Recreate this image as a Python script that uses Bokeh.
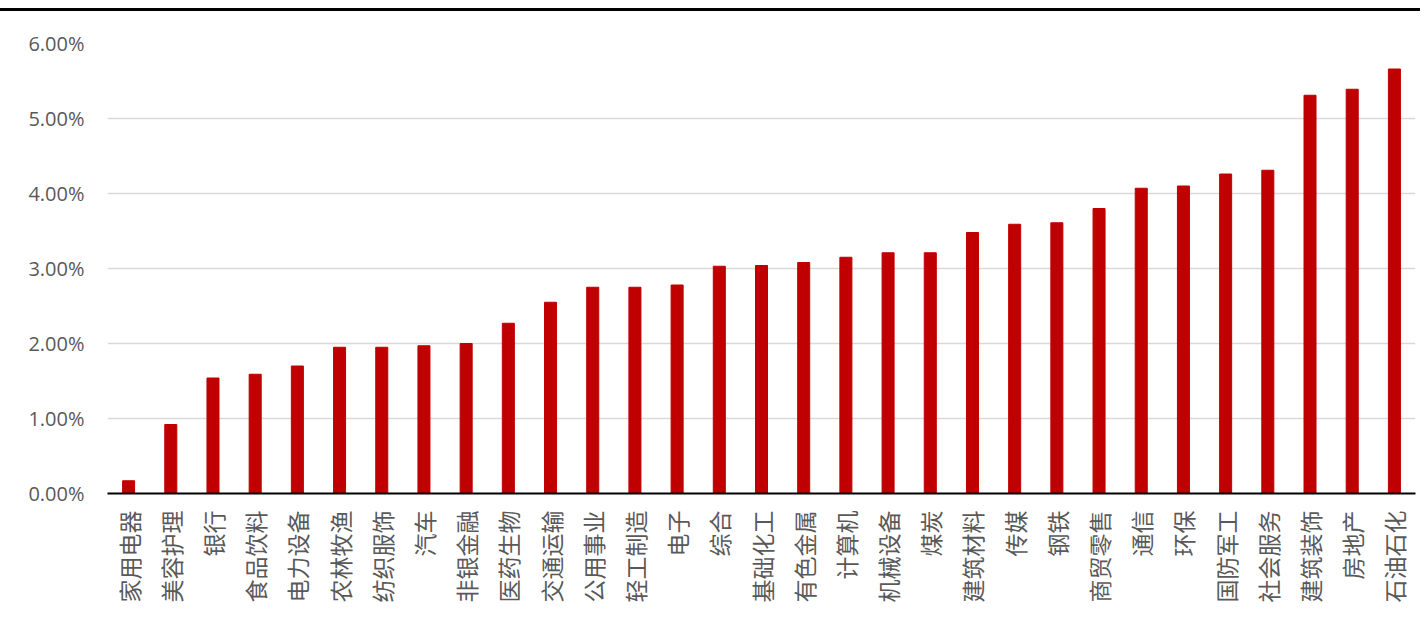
import math
from bokeh.plotting import figure
from bokeh.models import ColumnDataSource, FactorRange, Range1d, PrintfTickFormatter, FixedTicker
from bokeh.embed import file_html
from bokeh.resources import INLINE

industries = ["家用电器", "美容护理", "银行", "食品饮料", "电力设备", "农林牧渔", "纺织服饰", "汽车",
              "非银金融", "医药生物", "交通运输", "公用事业", "轻工制造", "电子", "综合", "基础化工",
              "有色金属", "计算机", "机械设备", "煤炭", "建筑材料", "传媒", "钢铁", "商贸零售",
              "通信", "环保", "国防军工", "社会服务", "建筑装饰", "房地产", "石油石化"]
values = [0.17, 0.92, 1.54, 1.59, 1.70, 1.95, 1.95, 1.97,
          2.00, 2.27, 2.55, 2.75, 2.75, 2.78, 3.03, 3.04,
          3.08, 3.15, 3.21, 3.21, 3.48, 3.59, 3.61, 3.80,
          4.07, 4.10, 4.26, 4.31, 5.31, 5.39, 5.66]
y_ticks = [0, 1, 2, 3, 4, 5, 6]

source = ColumnDataSource(data=dict(x=industries, y=values))

p = figure(width=1420, height=605, output_backend="svg", toolbar_location=None,
           x_range=FactorRange(*industries, range_padding=0),
           y_range=Range1d(0, 6),
           min_border_left=107, min_border_right=5, min_border_top=32, min_border_bottom=123)

p.vbar(x="x", top="y", width=0.285, source=source, color="#C00000")

p.outline_line_color = None
p.background_fill_color = "white"
p.border_fill_color = "white"
p.styles = {"border-top": "3px solid black", "margin-top": "8px"}

p.xgrid.grid_line_color = None
p.ygrid.grid_line_color = "#d9d9d9"
p.ygrid.grid_line_width = 1.5

p.yaxis.ticker = FixedTicker(ticks=y_ticks)
p.yaxis.formatter = PrintfTickFormatter(format="%.2f%%")
p.yaxis.axis_line_color = None
p.yaxis.major_tick_line_color = None
p.yaxis.minor_tick_line_color = None
p.yaxis.major_tick_out = 0
p.yaxis.major_label_standoff = 23
p.yaxis.major_label_text_font = "Open Sans"
p.yaxis.major_label_text_font_size = "20px"
p.yaxis.major_label_text_color = "#595959"

p.xaxis.axis_line_color = "black"
p.xaxis.axis_line_width = 2
p.xaxis.major_tick_line_color = None
p.xaxis.minor_tick_line_color = None
p.xaxis.major_tick_out = 0
p.xaxis.major_label_orientation = math.pi / 2
p.xaxis.major_label_standoff = 17
p.xaxis.major_label_text_font = "Noto Sans CJK SC"
p.xaxis.major_label_text_font_size = "23px"
p.xaxis.major_label_text_color = "#595959"

open("out.html", "w").write(file_html(p, INLINE))
